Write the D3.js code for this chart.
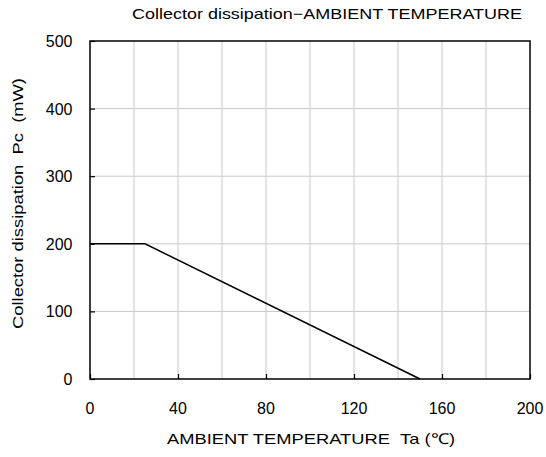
<!DOCTYPE html>
<html><head><meta charset="utf-8">
<script src="https://cdn.jsdelivr.net/npm/d3@7"></script>
<style>body{margin:0;background:#fff;} text{font-family:"Liberation Sans",Arial,sans-serif;fill:#000;}</style>
</head><body>
<svg id="c" width="546" height="457"></svg>
<script>
const tempValues = [0, 25, 150];
const powerValues = [200, 200, 0];
const xTicks = [0, 40, 80, 120, 160, 200];
const xGrid = [20, 40, 60, 80, 100, 120, 140, 160, 180];
const yTicks = [0, 100, 200, 300, 400, 500];
const title = "Collector dissipation\u2212AMBIENT TEMPERATURE";
const xTitle = "AMBIENT TEMPERATURE\u00a0\u00a0Ta\u00a0(\u2103)";
const yTitle = "Collector dissipation\u00a0\u00a0Pc\u00a0\u00a0(mW)";

const svg = d3.select("#c");
const L = 90, R = 530, T = 41, B = 379;
const x = d3.scaleLinear().domain([0, 200]).range([L, R]);
const y = d3.scaleLinear().domain([0, 500]).range([B, T]);

// grid
svg.append("g").selectAll("line").data(xGrid).join("line")
  .attr("x1", d => x(d)).attr("x2", d => x(d)).attr("y1", T).attr("y2", B)
  .attr("stroke", "#c8c8c8").attr("stroke-width", 1);
svg.append("g").selectAll("line").data(yTicks.slice(1, -1)).join("line")
  .attr("x1", L).attr("x2", R).attr("y1", d => y(d)).attr("y2", d => y(d))
  .attr("stroke", "#c8c8c8").attr("stroke-width", 1);

// axes with inward ticks
const xAxis = svg.append("g").attr("transform", `translate(0,${B})`)
  .call(d3.axisTop(x).tickValues(xTicks).tickSize(5).tickFormat(""));
xAxis.select(".domain").remove();
xAxis.selectAll("line").attr("stroke", "#000").attr("stroke-width", 1.2);
const yAxis = svg.append("g").attr("transform", `translate(${L},0)`)
  .call(d3.axisRight(y).tickValues(yTicks).tickSize(5).tickFormat(""));
yAxis.select(".domain").remove();
yAxis.selectAll("line").attr("stroke", "#000").attr("stroke-width", 1.2);

// labels
svg.append("g").selectAll("text").data(xTicks).join("text")
  .attr("x", d => x(d)).attr("y", 413.5).attr("text-anchor", "middle")
  .style("font-size", "16px").text(d => d);
svg.append("g").selectAll("text").data(yTicks).join("text")
  .attr("x", 72.5).attr("y", d => y(d) + 6).attr("text-anchor", "end")
  .style("font-size", "16px").text(d => d);

// border
svg.append("rect").attr("x", L).attr("y", T).attr("width", R - L).attr("height", B - T)
  .attr("fill", "none").attr("stroke", "#000").attr("stroke-width", 1.5);

// data line
const line = d3.line().x((d, i) => x(tempValues[i])).y(d => y(d));
svg.append("path").datum(powerValues).attr("d", line)
  .attr("fill", "none").attr("stroke", "#000").attr("stroke-width", 1.5);

// titles
svg.append("text").attr("x", 132).attr("y", 19)
  .attr("textLength", 390).attr("lengthAdjust", "spacingAndGlyphs")
  .style("font-size", "15px").text(title);
svg.append("text").attr("x", 167).attr("y", 444)
  .attr("textLength", 288).attr("lengthAdjust", "spacingAndGlyphs")
  .style("font-size", "15px").text(xTitle);
svg.append("text").attr("transform", "translate(23,329) rotate(-90)")
  .attr("textLength", 251).attr("lengthAdjust", "spacingAndGlyphs")
  .style("font-size", "15px").text(yTitle);
</script>
</body></html>
